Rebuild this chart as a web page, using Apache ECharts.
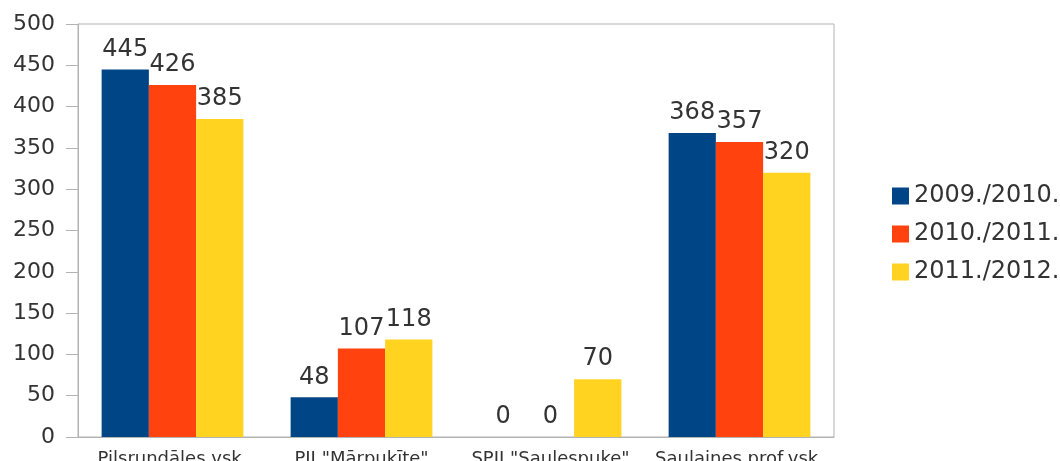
<!DOCTYPE html>
<html>
<head>
<meta charset="utf-8">
<script src="https://cdn.jsdelivr.net/npm/echarts@6/dist/echarts.min.js"></script>
<style>
	html, body { margin: 0; padding: 0; background: #fff; }
	#myChart { width: 1060px; height: 461px; }
</style>
</head>
<body>
<div id="myChart"></div>
<script type="text/javascript">
	var categories = ['Pilsrundāles vsk.', 'PII "Mārpukīte"', 'SPII "Saulespuke"', 'Saulaines prof.vsk.'];
	var seriesNames = ['2009./2010.', '2010./2011.', '2011./2012.'];
	var values2009 = [445, 48, 0, 368];
	var values2010 = [426, 107, 0, 357];
	var values2011 = [385, 118, 70, 320];
	var colors = ['#004586', '#ff420e', '#ffd320'];

	var myChart = echarts.init(document.getElementById('myChart'));
	var font = 'DejaVu Sans, Liberation Sans, sans-serif';

	// one bar series per school year
	function barSeries(name, data, color) {
		return {
			name: name,
			type: 'bar',
			data: data,
			barGap: '0%',
			barCategoryGap: '25%',
			itemStyle: { color: color },
			label: {
				show: true,
				position: 'top',
				distance: 8,
				color: '#333333',
				fontSize: 24,
				fontFamily: font
			}
		};
	}

	var option = {
		animation: false,
		color: colors,
		legend: {
			orient: 'vertical',
			left: 887,
			top: 179,
			itemWidth: 17,
			itemHeight: 17,
			itemGap: 14,
			icon: 'rect',
			data: seriesNames,
			textStyle: { color: '#333333', fontSize: 24, fontFamily: font }
		},
		grid: {
			left: 78,
			right: 226,
			top: 24,
			bottom: 24,
			outerBoundsMode: 'none',
			containLabel: false,
			show: true,
			borderColor: '#b3b3b3',
			borderWidth: 1
		},
		xAxis: {
			type: 'category',
			data: categories,
			axisLine: { lineStyle: { color: '#b3b3b3' } },
			axisTick: { show: false },
			axisLabel: { color: '#333333', fontSize: 18, fontFamily: font, margin: 13, interval: 0 }
		},
		yAxis: {
			type: 'value',
			min: 0,
			max: 500,
			interval: 50,
			axisLine: { show: true, lineStyle: { color: '#b3b3b3' } },
			axisTick: { show: true, length: 12, lineStyle: { color: '#b3b3b3' } },
			splitLine: { show: false },
			axisLabel: { color: '#333333', fontSize: 22, fontFamily: font, margin: 23 }
		},
		series: [
			barSeries(seriesNames[0], values2009, colors[0]),
			barSeries(seriesNames[1], values2010, colors[1]),
			barSeries(seriesNames[2], values2011, colors[2])
		]
	};
	myChart.setOption(option);
</script>
</body>
</html>
